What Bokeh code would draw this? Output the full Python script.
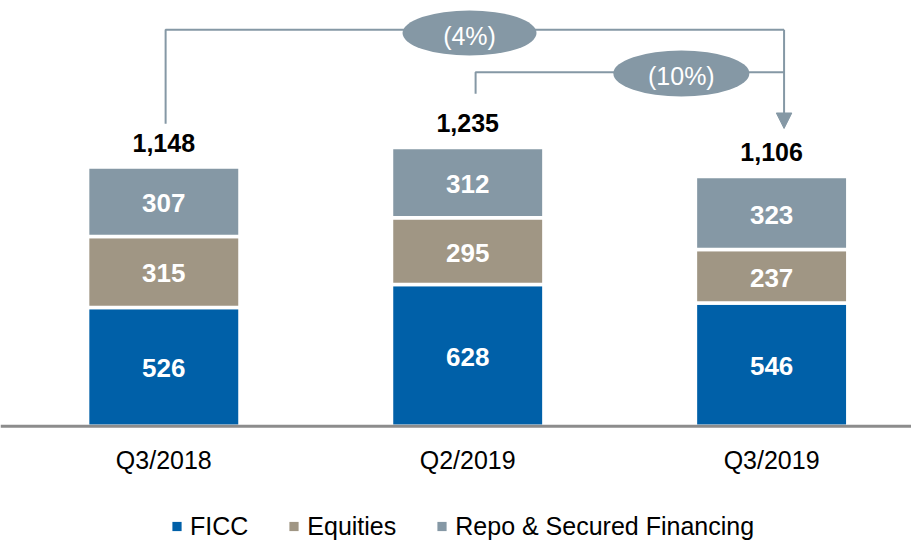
from bokeh.plotting import figure
from bokeh.models import ColumnDataSource, Range1d, Span, Arrow, NormalHead, Legend, LegendItem
from bokeh.core.properties import value
from bokeh.embed import file_html
from bokeh.resources import INLINE

# ---------------- data ----------------
categories = ["Q3/2018", "Q2/2019", "Q3/2019"]
series = ["FICC", "Equities", "Repo & Secured Financing"]
ficc = [526, 628, 546]
equities = [315, 295, 237]
repo = [307, 312, 323]
comparisons = [(0, 2), (1, 2)]  # (from category index, to category index)

# ---------------- style / layout ----------------
colors = ["#0060A8", "#A09684", "#8598A5"]
ANNOT = "#8598A5"
AXIS = "#8C8C8C"
FONT = "Liberation Sans"
conn_level = [1757, 1568]      # height of connector lines (data units)
conn_rise = [192, 238]         # gap above source total
conn_dx = [0.006, 0.026]       # x offset of connector start
arrow_dx = 0.041
arrow_gap = 213
bubble_pos = [(1.006, 1742), (1.703, 1563)]
bubble_size = [(134, 45), (136, 46)]

x = list(range(len(categories)))
totals = [a + b + c for a, b, c in zip(ficc, equities, repo)]

p = figure(width=911, height=541,
           x_range=Range1d(-0.5373, 2.4603), y_range=Range1d(-510.9, 1886.1),
           output_backend="svg", toolbar_location=None,
           x_axis_location=None, y_axis_location=None,
           min_border=0, outline_line_color=None)
p.grid.visible = False
p.background_fill_color = "white"
p.border_fill_color = "white"

# stacked bars
src = ColumnDataSource(dict(x=x, zero=[0] * len(x), FICC=ficc, Equities=equities, Repo=repo))
bars = p.vbar_stack(["FICC", "Equities", "Repo"], x="x", width=0.5015, source=src,
                    fill_color=colors, line_color="white", line_width=3.5)

# segment labels
lx, ly, lt = [], [], []
for i in x:
    base = 0
    for vals in (ficc, equities, repo):
        v = vals[i]
        lx.append(i)
        ly.append(base + v / 2)
        lt.append(str(v))
        base += v
p.text(x="x", y="y", text="t", source=ColumnDataSource(dict(x=lx, y=ly, t=lt)),
       text_color="white", text_font=value(FONT), text_font_style="bold",
       text_font_size="26px", text_align="center", text_baseline="middle", y_offset=1.5)

# totals
p.text(x=x, y=totals, text=["{:,}".format(t) for t in totals],
       text_color="black", text_font=value(FONT), text_font_style="bold",
       text_font_size="25px", text_align="center", text_baseline="middle", y_offset=-24.4)

# category labels
p.text(x=x, y=[0] * len(x), text=categories,
       text_color="black", text_font=value(FONT),
       text_font_size="25px", text_align="center", text_baseline="middle", y_offset=33.8)

# baseline axis line
p.add_layout(Span(location=0, dimension="width", line_color=AXIS, line_width=3))

# connectors
xs, ys = [], []
for k, (a, b) in enumerate(comparisons):
    xs.append([a + conn_dx[k], a + conn_dx[k], b + arrow_dx])
    ys.append([totals[a] + conn_rise[k], conn_level[k], conn_level[k]])
p.multi_line(xs=xs, ys=ys, line_color=ANNOT, line_width=2)
tgt = comparisons[0][1]
p.add_layout(Arrow(end=NormalHead(size=15.5, fill_color=ANNOT, line_color=ANNOT),
                   x_start=tgt + arrow_dx, y_start=conn_level[0],
                   x_end=tgt + arrow_dx, y_end=totals[tgt] + arrow_gap,
                   line_color=ANNOT, line_width=2))

# change bubbles
pct_labels = []
for a, b in comparisons:
    ch = (totals[b] - totals[a]) / totals[a] * 100
    s = "{}%".format(abs(round(ch)))
    pct_labels.append("(" + s + ")" if ch < 0 else s)
p.ellipse(x=[b[0] for b in bubble_pos], y=[b[1] for b in bubble_pos],
          width=[s[0] for s in bubble_size], height=[s[1] for s in bubble_size],
          width_units="screen", height_units="screen",
          fill_color=ANNOT, line_color=None)
p.text(x=[b[0] for b in bubble_pos], y=[b[1] for b in bubble_pos], text=pct_labels,
       text_color="white", text_font=value(FONT), text_font_size="25px",
       text_align="center", text_baseline="middle", y_offset=3)

# legend (square markers; zero-size proxies on the bar data, invisible in the plot)
items = []
for name, c in zip(series, colors):
    r = p.scatter(x="x", y="zero", source=src, marker="square", size=0,
                  fill_color=c, line_color=None)
    items.append(LegendItem(label=name, renderers=[r]))
legend = Legend(items=items, orientation="horizontal", location=(165, 0),
                glyph_width=23, glyph_height=30, label_standoff=2, spacing=34,
                padding=0, margin=0, border_line_color=None, background_fill_alpha=0,
                label_text_font=FONT, label_text_font_size="25px", label_text_color="black")
p.add_layout(legend)

open("out.html", "w").write(file_html(p, INLINE))
